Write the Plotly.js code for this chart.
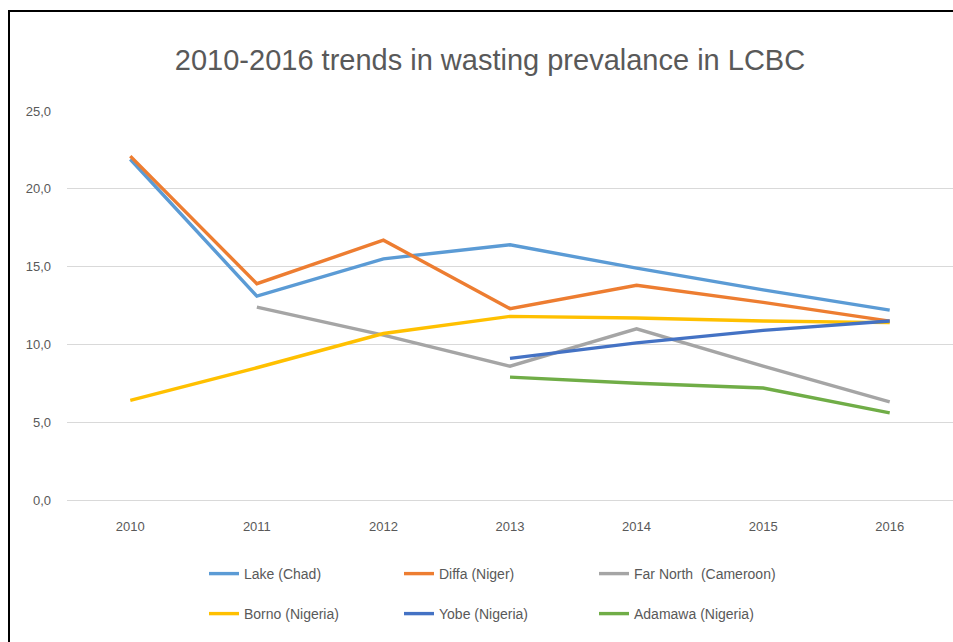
<!DOCTYPE html>
<html>
<head>
<meta charset="utf-8">
<script src="https://cdn.plot.ly/plotly-3.0.1.min.js"></script>
<style>
  html, body { margin: 0; padding: 0; background: #fff; }
  #chart { width: 953px; height: 642px; }
</style>
</head>
<body>
<div id="chart"></div>
<script>
const years = ['2010', '2011', '2012', '2013', '2014', '2015', '2016'];
const lakeChad = [21.9, 13.1, 15.5, 16.4, 14.9, 13.5, 12.2];
const diffaNiger = [22.1, 13.9, 16.7, 12.3, 13.8, 12.7, 11.5];
const farNorthCameroon = [null, 12.4, 10.6, 8.6, 11.0, 8.6, 6.3];
const bornoNigeria = [6.4, 8.5, 10.7, 11.8, 11.7, 11.5, 11.4];
const yobeNigeria = [null, null, null, 9.1, 10.1, 10.9, 11.5];
const adamawaNigeria = [null, null, null, 7.9, 7.5, 7.2, 5.6];
const seriesNames = ['Lake (Chad)', 'Diffa (Niger)', 'Far North  (Cameroon)', 'Borno (Nigeria)', 'Yobe (Nigeria)', 'Adamawa (Nigeria)'];
const yTicks = [0, 5, 10, 15, 20, 25];

const colors = ['#5B9BD5', '#ED7D31', '#A5A5A5', '#FFC000', '#4472C4', '#70AD47'];
const allSeries = [lakeChad, diffaNiger, farNorthCameroon, bornoNigeria, yobeNigeria, adamawaNigeria];

const W = 953, H = 642;
const mL = 67, mR = 0, mT = 111, mB = 142;
const pw = W - mL - mR, ph = H - mT - mB;
const px = x => (x - mL) / pw;
const py = y => (H - mB - y) / ph;

const font = 'Liberation Sans, Arial, sans-serif';
const grey = '#595959';

const traces = allSeries.map((vals, i) => ({
  x: years,
  y: vals,
  name: seriesNames[i],
  type: 'scatter',
  mode: 'lines',
  line: { color: colors[i], width: 3.4 },
  connectgaps: false,
  legend: i < 3 ? 'legend' : 'legend2',
  hoverinfo: 'x+y+name'
}));

const legendCommon = {
  orientation: 'h',
  xref: 'container', yref: 'container',
  xanchor: 'left', yanchor: 'middle',
  font: { family: font, size: 14, color: grey },
  entrywidth: 150, entrywidthmode: 'pixels',
  bgcolor: 'rgba(0,0,0,0)',
  itemclick: false, itemdoubleclick: false
};

const layout = {
  width: W, height: H,
  margin: { l: mL, r: mR, t: mT, b: mB, pad: 0 },
  paper_bgcolor: '#ffffff',
  plot_bgcolor: '#ffffff',
  separators: ',.',
  title: {
    text: '2010-2016 trends in wasting prevalance in LCBC',
    font: { family: font, size: 29, color: grey },
    xref: 'container', yref: 'container',
    x: 490 / W, xanchor: 'center',
    y: 1 - 60 / H, yanchor: 'middle'
  },
  xaxis: {
    type: 'category',
    categoryarray: years,
    range: [-0.5, 6.5],
    showgrid: false,
    showline: false,
    zeroline: false,
    ticks: '',
    ticklabelstandoff: 17,
    tickfont: { family: font, size: 13, color: grey },
    fixedrange: true
  },
  yaxis: {
    range: [0, 25],
    tickvals: yTicks,
    tickformat: '.1f',
    showgrid: true,
    gridcolor: '#D9D9D9',
    gridwidth: 1,
    zeroline: true,
    zerolinecolor: '#D9D9D9',
    zerolinewidth: 1,
    showline: false,
    ticks: '',
    ticklabelstandoff: 15,
    tickfont: { family: font, size: 13, color: grey },
    fixedrange: true
  },
  showlegend: true,
  legend: Object.assign({}, legendCommon, { x: 204 / W, y: 1 - 574 / H }),
  legend2: Object.assign({}, legendCommon, { x: 204 / W, y: 1 - 614 / H }),
  shapes: [
    { type: 'line', xref: 'paper', yref: 'paper', x0: px(9), x1: px(9), y0: py(H + 5), y1: py(11),
      line: { color: '#000000', width: 2 } },
    { type: 'line', xref: 'paper', yref: 'paper', x0: px(8), x1: px(W + 5), y0: py(11), y1: py(11),
      line: { color: '#000000', width: 2 } }
  ]
};

Plotly.newPlot('chart', traces, layout, { displayModeBar: false, staticPlot: false });
</script>
</body>
</html>
